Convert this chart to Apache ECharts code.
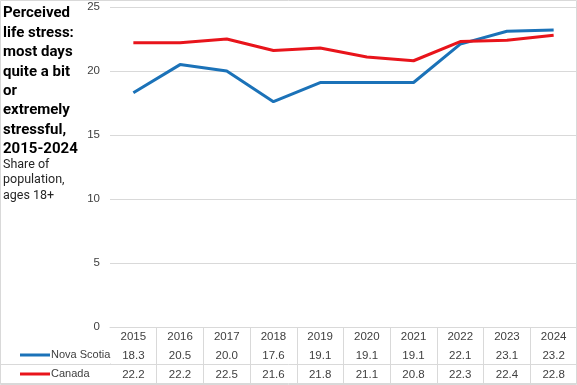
<!DOCTYPE html>
<html><head><meta charset="utf-8">
<script src="https://cdn.jsdelivr.net/npm/echarts@6/dist/echarts.min.js"></script>
<style>html,body{margin:0;padding:0;background:#fff}#c{width:577px;height:385px}</style>
</head><body><div id="c"></div>
<script>
const years = ['2015','2016','2017','2018','2019','2020','2021','2022','2023','2024'];
const novaScotia = [18.3, 20.5, 20.0, 17.6, 19.1, 19.1, 19.1, 22.1, 23.1, 23.2];
const canada = [22.2, 22.2, 22.5, 21.6, 21.8, 21.1, 20.8, 22.3, 22.4, 22.8];
const yTicks = [0, 5, 10, 15, 20, 25];
const titleLines = ['Perceived', 'life stress:', 'most days', 'quite a bit', 'or', 'extremely', 'stressful,', '2015-2024'];
const subtitleLines = ['Share of', 'population,', 'ages 18+'];

const chart = echarts.init(document.getElementById('c'));
const lineCol = '#d9d9d9';
chart.setOption({
  animation: false,
  backgroundColor: '#fff',
  grid: { left: 110, right: 0, top: 7, height: 320 },
  title: [
    { text: titleLines.join('\n'), left: 3, top: 4, padding: 0,
      textStyle: { fontFamily: 'Roboto', fontWeight: 'bold', fontSize: 15, lineHeight: 19.4, color: '#000' } },
    { text: subtitleLines.join('\n'), left: 3, top: 157, padding: 0,
      textStyle: { fontFamily: 'Roboto', fontWeight: 'normal', fontSize: 12.5, lineHeight: 15.5, color: '#262626' } }
  ],
  legend: {
    orient: 'vertical', left: 20, top: 348, itemGap: 5, padding: 0, z: 10,
    itemWidth: 30, itemHeight: 3, icon: 'rect',
    textStyle: { fontFamily: 'Liberation Sans', fontSize: 11, lineHeight: 14, color: '#404040', padding: [0,0,0,-4] },
    data: ['Nova Scotia', 'Canada']
  },
  xAxis: {
    type: 'category', data: years, boundaryGap: true,
    axisLine: { show: true, lineStyle: { color: lineCol, width: 1 } },
    axisTick: { show: true, inside: false, length: 57, lineStyle: { color: lineCol }, interval: 0 },
    axisLabel: {
      margin: 0, interval: 0,
      formatter: function (v, i) {
        return '{y|' + v + '}\n{v|' + novaScotia[i].toFixed(1) + '}\n{v|' + canada[i].toFixed(1) + '}';
      },
      rich: {
        y: { fontFamily: 'Liberation Sans', fontSize: 11.5, lineHeight: 19, color: '#404040' },
        v: { fontFamily: 'Liberation Sans', fontSize: 11.5, lineHeight: 19, color: '#404040' }
      }
    }
  },
  yAxis: {
    type: 'value', min: yTicks[0], max: yTicks[yTicks.length - 1], interval: 5,
    axisLine: { show: false }, axisTick: { show: false },
    axisLabel: { margin: 10, fontFamily: 'Liberation Sans', fontSize: 11.5, color: '#404040' },
    splitLine: { lineStyle: { color: lineCol, width: 1 } }
  },
  series: [
    { name: 'Nova Scotia', type: 'line', data: novaScotia, symbol: 'none', color: '#1b72b8',
      lineStyle: { width: 3, color: '#1b72b8' } },
    { name: 'Canada', type: 'line', data: canada, symbol: 'none', color: '#e8141b',
      lineStyle: { width: 3, color: '#e8141b' } }
  ],
  graphic: [
    { type: 'line', z: 1, shape: { x1: 110.5, y1: 328, x2: 110.5, y2: 363.5 }, style: { stroke: '#fff', lineWidth: 2 }, silent: true },
    { type: 'line', z: 1, shape: { x1: 110.5, y1: 365, x2: 110.5, y2: 383 }, style: { stroke: '#fff', lineWidth: 2 }, silent: true },
    { type: 'line', z: 2, shape: { x1: 0, y1: 364.5, x2: 577, y2: 364.5 }, style: { stroke: lineCol, lineWidth: 1 }, silent: true },
    { type: 'line', z: 2, shape: { x1: 0, y1: 383.5, x2: 577, y2: 383.5 }, style: { stroke: lineCol, lineWidth: 1 }, silent: true },
    { type: 'rect', z: 2, shape: { x: 0.5, y: 0.5, width: 576, height: 384 }, style: { fill: 'none', stroke: lineCol, lineWidth: 1 }, silent: true }
  ]
});
</script></body></html>
